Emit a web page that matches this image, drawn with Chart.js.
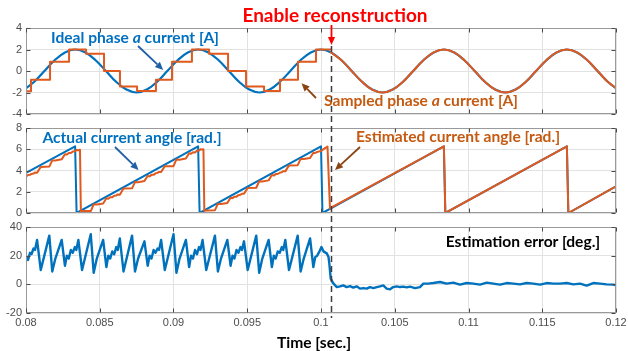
<!DOCTYPE html>
<html>
<head>
<meta charset="utf-8">
<script src="https://cdn.jsdelivr.net/npm/chart.js@4.4.1/dist/chart.umd.min.js"></script>
<style>
  html, body { margin: 0; padding: 0; background: #fff; }
  #wrap { position: relative; width: 628px; height: 351px; overflow: hidden; }
  #wrap canvas { position: absolute; left: 0; }
  .lbl { position: absolute; transform: translate(-50%, -50%); font-family: Lato, "Open Sans", sans-serif;
         font-weight: 700; font-size: 15.6px; white-space: nowrap; line-height: 1; }
</style>
</head>
<body>
<div id="wrap">
  <canvas id="cur" width="670" height="130" style="top:0"></canvas>
  <canvas id="ang" width="670" height="120" style="top:110px"></canvas>
  <canvas id="err" width="670" height="144" style="top:207px"></canvas>
  <canvas id="marks" width="628" height="351" style="top:0"></canvas>
  <div class="lbl" style="left:335px; top:14px; font-size:19px; color:#ff0000">Enable reconstruction</div>
  <div class="lbl" style="left:135px; top:38px; color:#0070c0">Ideal phase <i>a</i> current [A]</div>
  <div class="lbl" style="left:421px; top:101px; color:#c55a11">Sampled phase <i>a</i> current [A]</div>
  <div class="lbl" style="left:132px; top:138px; color:#0070c0">Actual current angle [rad.]</div>
  <div class="lbl" style="left:458px; top:137px; color:#c55a11">Estimated current angle [rad.]</div>
  <div class="lbl" style="left:523px; top:242px; color:#000">Estimation error [deg.]</div>
  <div class="lbl" style="left:314px; top:343px; color:#000">Time [sec.]</div>
</div>
<script>
const BLUE = '#0072bd';
const ORANGE = '#e0591e';

const reconTime = 0.10066;

// time axis
const timeTicks = [0.08, 0.085, 0.09, 0.095, 0.1, 0.105, 0.11, 0.115, 0.12];
const timeTickLabels = ['0.08', '0.085', '0.09', '0.095', '0.1', '0.105', '0.11', '0.115', '0.12'];
const curTicks = [-4, -2, 0, 2, 4];
const angTicks = [0, 2, 4, 6, 8];
const errTicks = [-20, 0, 20, 40];

// ideal phase a current [A]
const idealTime = [0.07986, 0.08056, 0.08125, 0.08194, 0.08264, 0.08333, 0.08403, 0.08472, 0.08542, 0.08611,
  0.08681, 0.0875, 0.08819, 0.08889, 0.08958, 0.09028, 0.09097, 0.09167, 0.09236, 0.09306,
  0.09375, 0.09444, 0.09514, 0.09583, 0.09653, 0.09722, 0.09792, 0.09861, 0.09931, 0.1,
  0.10069, 0.10139, 0.10208, 0.10278, 0.10347, 0.10417, 0.10486, 0.10556, 0.10625, 0.10694,
  0.10764, 0.10833, 0.10903, 0.10972, 0.11042, 0.11111, 0.11181, 0.1125, 0.11319, 0.11389,
  0.11458, 0.11528, 0.11597, 0.11667, 0.11736, 0.11806, 0.11875, 0.11944, 0.12014];
const idealCurrent = [-1.73, -1, 0, 1, 1.73, 2, 1.73, 1, 0, -1,
  -1.73, -2, -1.73, -1, 0, 1, 1.73, 2, 1.73, 1,
  0, -1, -1.73, -2, -1.73, -1, 0, 1, 1.73, 2,
  1.73, 1, 0, -1, -1.73, -2, -1.73, -1, 0, 1,
  1.73, 2, 1.73, 1, 0, -1, -1.73, -2, -1.73, -1,
  0, 1, 1.73, 2, 1.73, 1, 0, -1, -1.73];

// sampled phase a current, held between samples
const sampledTime = [0.08, 0.08034, 0.08163, 0.08292, 0.08407, 0.08529, 0.08637, 0.08753, 0.08881, 0.0899,
  0.09125, 0.09241, 0.0937, 0.09492, 0.09614, 0.09722, 0.09844, 0.09966, 0.10066];
const sampledCurrent = [-1.88, -0.82, 0.85, 2, 1.6, 0, -1.45, -1.85, -0.82, 0.85,
  2, 1.6, 0, -1.45, -1.85, -0.82, 0.85, 2, 2];

// sampled current once reconstruction is on
const reconCurTime = [0.10066, 0.10139, 0.10208, 0.10278, 0.10347, 0.10417, 0.10486, 0.10556, 0.10625, 0.10694,
  0.10764, 0.10833, 0.10903, 0.10972, 0.11042, 0.11111, 0.11181, 0.1125, 0.11319, 0.11389,
  0.11458, 0.11528, 0.11597, 0.11667, 0.11736, 0.11806, 0.11875, 0.11944, 0.12014];
const reconCurrent = [1.75, 1, 0, -1, -1.73, -2, -1.73, -1, 0, 1,
  1.73, 2, 1.73, 1, 0, -1, -1.73, -2, -1.73, -1,
  0, 1, 1.73, 2, 1.73, 1, 0, -1, -1.73];

// actual current angle [rad.]
const actualAngleTime = [0.08, 0.08333, 0.08343, 0.09167, 0.09177, 0.1, 0.1001, 0.10833, 0.10843, 0.11667, 0.11677, 0.12];
const actualAngle = [3.77, 6.28, 0, 6.28, 0, 6.28, 0, 6.28, 0, 6.28, 0, 2.51];

// estimated current angle [rad.]
const estAngleTime = [0.08, 0.08014, 0.08027, 0.08037, 0.08051, 0.08061, 0.08075, 0.081,
  0.08158, 0.08178, 0.08199, 0.08242, 0.08264, 0.08277, 0.0829, 0.08304, 0.08317, 0.08331, 0.08341, 0.08355,
  0.08366, 0.08372, 0.0838,
  0.08439, 0.08459, 0.0848, 0.08523, 0.08545, 0.08558, 0.08571, 0.08585, 0.08598, 0.08612, 0.08622, 0.08636, 0.08661,
  0.08719, 0.08739, 0.0876, 0.08803, 0.08825, 0.08838, 0.08851, 0.08865, 0.08878, 0.08892, 0.08902, 0.08916, 0.08941,
  0.09, 0.0902, 0.09041, 0.09084, 0.09106, 0.09119, 0.09132, 0.09146, 0.09159, 0.09173, 0.09183, 0.09197,
  0.09203, 0.09209, 0.09222,
  0.09281, 0.09301, 0.09322, 0.09365, 0.09387, 0.094, 0.09413, 0.09427, 0.0944, 0.09454, 0.09464, 0.09478, 0.09503,
  0.09561, 0.09581, 0.09602, 0.09645, 0.09667, 0.0968, 0.09693, 0.09707, 0.0972, 0.09734, 0.09744, 0.09758, 0.09783,
  0.09842, 0.09862, 0.09883, 0.09926, 0.09948, 0.09961, 0.09974, 0.09988, 0.10003, 0.10017, 0.10039, 0.10044,
  0.10061, 0.10081, 0.10833, 0.10843, 0.11667, 0.11677, 0.12];
const estAngle = [3.42, 3.57, 3.59, 3.68, 3.71, 3.81, 3.79, 4.34,
  4.37, 4.95, 4.95, 5.05, 5.53, 5.5, 5.64, 5.64, 5.78, 5.81, 5.92, 5.91,
  5.95, 0.15, 0.18,
  0.18, 0.81, 0.79, 0.89, 1.39, 1.34, 1.48, 1.49, 1.63, 1.64, 1.75, 1.72, 2.31,
  2.32, 2.91, 2.9, 3.02, 3.48, 3.45, 3.59, 3.59, 3.73, 3.78, 3.87, 3.86, 4.41,
  4.41, 5.04, 5.02, 5.12, 5.62, 5.57, 5.71, 5.7, 5.86, 5.88, 5.99, 5.97,
  6.0, 0.2, 0.24,
  0.27, 0.86, 0.85, 0.95, 1.43, 1.4, 1.54, 1.54, 1.68, 1.71, 1.82, 1.82, 2.36,
  2.38, 2.99, 2.97, 3.07, 3.57, 3.52, 3.66, 3.67, 3.79, 3.83, 3.94, 3.92, 4.48,
  4.5, 5.09, 5.08, 5.17, 5.68, 5.65, 5.74, 5.8, 5.86, 6.01, 6.2, 6.25,
  0.4, 0.6, 6.28, 0, 6.28, 0, 2.51];

// estimation error [deg.]
const errTime = [0.08, 0.08014, 0.08027, 0.08037, 0.08051, 0.08061, 0.08075, 0.081,
  0.08158, 0.08178, 0.08199, 0.08242, 0.08264, 0.08277, 0.0829, 0.08304, 0.08317, 0.08331, 0.08341, 0.08355, 0.0838,
  0.08439, 0.08459, 0.0848, 0.08523, 0.08545, 0.08558, 0.08571, 0.08585, 0.08598, 0.08612, 0.08622, 0.08636, 0.08661,
  0.08719, 0.08739, 0.0876, 0.08803, 0.08825, 0.08838, 0.08851, 0.08865, 0.08878, 0.08892, 0.08902, 0.08916, 0.08941,
  0.09, 0.0902, 0.09041, 0.09084, 0.09106, 0.09119, 0.09132, 0.09146, 0.09159, 0.09173, 0.09183, 0.09197, 0.09222,
  0.09281, 0.09301, 0.09322, 0.09365, 0.09387, 0.094, 0.09413, 0.09427, 0.0944, 0.09454, 0.09464, 0.09478, 0.09503,
  0.09561, 0.09581, 0.09602, 0.09645, 0.09667, 0.0968, 0.09693, 0.09707, 0.0972, 0.09734, 0.09744, 0.09758, 0.09783,
  0.09842, 0.09862, 0.09883, 0.09926, 0.09948, 0.09961, 0.09974, 0.09988, 0.10003, 0.10017, 0.10039, 0.10051,
  0.10056, 0.10066, 0.10081, 0.10106,
  0.10129, 0.10151, 0.10174, 0.10197, 0.10219, 0.10242, 0.10264, 0.10287, 0.1031, 0.10332, 0.10355, 0.10378,
  0.104, 0.10422, 0.10445, 0.10468, 0.1049, 0.10513, 0.10536, 0.10558, 0.10581, 0.10603, 0.10637, 0.10671,
  0.10694, 0.10727, 0.10761, 0.10807, 0.10852, 0.10897, 0.10942, 0.10988, 0.11033, 0.11078, 0.11124, 0.11168,
  0.11214, 0.11259, 0.11304, 0.11349, 0.11395, 0.11439, 0.11485, 0.1153, 0.11575, 0.1162, 0.11666, 0.11711,
  0.11756, 0.11801, 0.11846, 0.11892, 0.11937, 0.11982, 0.12];
const errDeg = [20, 17, 22, 21, 25, 24, 31, 10,
  34, 9, 18, 31, 13, 20, 18, 24, 22, 26, 24, 31, 10,
  35, 8, 18, 31, 12, 20, 18, 23, 21, 26, 24, 32, 9,
  34, 9, 18, 30, 13, 20, 18, 24, 22, 25, 24, 31, 10,
  35, 8, 18, 31, 12, 20, 18, 24, 21, 26, 24, 31, 10,
  34, 9, 18, 31, 13, 20, 18, 24, 22, 26, 24, 30, 10,
  34, 8, 18, 31, 12, 20, 18, 23, 22, 26, 24, 31, 10,
  34, 9, 18, 32, 12, 19, 20, 22.6, 26, 23, 21.6, 19,
  15, 4, 1, -1.9,
  -1.4, -0.7, -1.9, -1.2, -2.3, -1.4, -3, -2.6, -3, -1.9, -2.6, -1.9,
  -1.4, -0.7, -3, -3.5, -1.9, -1.4, -1.9, -1.6, -2.1, -1.6, -2.6, -1.9,
  0.5, 0.5, 0.9, 1.6, 0.5, 1.2, -0.2, 0.9, 0.5, -0.2, 1.2, 0.5,
  -0.2, 0.9, 0.5, 0, 0.9, 0.5, -0.2, 0.9, 0.5, 0.5, 0.9, 0,
  0.5, -0.9, 0.9, 0.5, 0, -0.2, -0.7];

const zip = (xs, ys) => xs.map((x, i) => ({ x: x, y: ys[i] }));

// MATLAB-style box with inward ticks on all four sides
const boxPlugin = {
  id: 'box',
  afterDraw(chart) {
    const { ctx, chartArea: a, scales } = chart;
    const L = Math.round(a.left) + 0.5, R = Math.round(a.right) - 0.5;
    const T = Math.round(a.top) + 0.5, B = Math.round(a.bottom) - 0.5;
    ctx.save();
    ctx.strokeStyle = '#9a9a9a';
    ctx.lineWidth = 1;
    ctx.strokeRect(L, T, R - L, B - T);
    ctx.strokeStyle = '#4a4a4a';
    ctx.beginPath();
    scales.x.ticks.forEach(t => {
      const px = Math.round(scales.x.getPixelForValue(t.value)) + 0.5;
      ctx.moveTo(px, T); ctx.lineTo(px, T + 4);
      ctx.moveTo(px, B); ctx.lineTo(px, B - 4);
    });
    scales.y.ticks.forEach(t => {
      const py = Math.round(scales.y.getPixelForValue(t.value)) + 0.5;
      ctx.moveTo(L, py); ctx.lineTo(L + 4, py);
      ctx.moveTo(R, py); ctx.lineTo(R - 4, py);
    });
    ctx.stroke();
    ctx.restore();
  }
};

// each panel canvas is 670 wide so the plot ends at x = 616 inside the 628 page
function panelOptions(padTop, padBottom, yMin, yMax, yTicks, withTimeLabels) {
  return {
    responsive: false,
    animation: false,
    devicePixelRatio: 1,
    layout: { padding: { top: padTop, bottom: padBottom, left: 0, right: 54 } },
    plugins: { legend: { display: false }, tooltip: { enabled: false } },
    elements: { point: { radius: 0 }, line: { borderJoinStyle: 'round', borderCapStyle: 'round' } },
    scales: {
      x: {
        type: 'linear', min: 0.08, max: 0.12,
        afterBuildTicks: s => { s.ticks = timeTicks.map(v => ({ value: v })); },
        afterFit: s => { s.height = withTimeLabels ? 38 : 0; },
        ticks: {
          display: withTimeLabels, autoSkip: false, maxRotation: 0, padding: 3,
          color: '#4d4d4d', font: { family: 'Liberation Sans', size: 11 },
          callback: (v, i) => timeTickLabels[i]
        },
        grid: { color: '#e2e2e2', drawTicks: false },
        border: { display: false }
      },
      y: {
        min: yMin, max: yMax,
        afterBuildTicks: s => { s.ticks = yTicks.map(v => ({ value: v })); },
        afterFit: s => { s.width = 26; },
        ticks: {
          autoSkip: false, padding: 4,
          color: '#4d4d4d', font: { family: 'Liberation Sans', size: 11 }
        },
        grid: { color: '#e2e2e2', drawTicks: false },
        border: { display: false }
      }
    }
  };
}

// canvas tops: 0, 110, 207 -> plot areas 28-114, 128-213, 227-313
const curChart = new Chart(document.getElementById('cur'), {
  type: 'line',
  data: {
    datasets: [
      { data: zip(sampledTime, sampledCurrent), borderColor: ORANGE, borderWidth: 2, stepped: true, order: 1 },
      { data: zip(reconCurTime, reconCurrent), borderColor: ORANGE, borderWidth: 2, tension: 0.4, order: 1 },
      { data: zip(idealTime, idealCurrent), borderColor: BLUE, borderWidth: 2.2, tension: 0.4, order: 2 }
    ]
  },
  options: panelOptions(28, 16, -4, 4, curTicks, false),
  plugins: [boxPlugin]
});

const angChart = new Chart(document.getElementById('ang'), {
  type: 'line',
  data: {
    datasets: [
      { data: zip(estAngleTime, estAngle), borderColor: ORANGE, borderWidth: 2, order: 1 },
      { data: zip(actualAngleTime, actualAngle), borderColor: BLUE, borderWidth: 2, order: 2 }
    ]
  },
  options: panelOptions(18, 17, 0, 8, angTicks, false),
  plugins: [boxPlugin]
});

const errChart = new Chart(document.getElementById('err'), {
  type: 'line',
  data: {
    datasets: [
      { data: zip(errTime, errDeg), borderColor: BLUE, borderWidth: 2.4 }
    ]
  },
  options: panelOptions(20, 0, -20, 40, errTicks, true),
  plugins: [boxPlugin]
});

// annotation layer: arrows and the reconstruction marker
const mk = document.getElementById('marks').getContext('2d');

function arrow(x0, y0, x1, y1, color) {
  const a = Math.atan2(y1 - y0, x1 - x0);
  const head = 8, half = 3.6;
  const bx = x1 - head * Math.cos(a), by = y1 - head * Math.sin(a);
  mk.save();
  mk.strokeStyle = color; mk.fillStyle = color; mk.lineWidth = 1.8;
  mk.beginPath(); mk.moveTo(x0, y0); mk.lineTo(bx, by); mk.stroke();
  mk.beginPath();
  mk.moveTo(x1, y1);
  mk.lineTo(bx + half * Math.sin(a), by - half * Math.cos(a));
  mk.lineTo(bx - half * Math.sin(a), by + half * Math.cos(a));
  mk.closePath(); mk.fill();
  mk.restore();
}

function at(chart, offsetY, t, v) {
  return [chart.scales.x.getPixelForValue(t), chart.scales.y.getPixelForValue(v) + offsetY];
}

const reconX = Math.round(errChart.scales.x.getPixelForValue(reconTime)) + 0.5;
mk.save();
mk.strokeStyle = '#3c3c3c';
mk.lineWidth = 1.5;
mk.setLineDash([6, 4]);
mk.beginPath(); mk.moveTo(reconX, 46); mk.lineTo(reconX, 318); mk.stroke();
mk.restore();

arrow(reconX, 25, reconX, 45, '#ff0000');

let p = at(curChart, 0, 0.0893, 0.1);
arrow(138, 46, p[0], p[1], '#1f5fa6');
p = at(curChart, 0, 0.09868, -1.14);
arrow(316, 98, p[0], p[1], '#8a4414');
p = at(angChart, 110, 0.08763, 4.05);
arrow(115, 147, p[0], p[1], '#1f5fa6');
p = at(angChart, 110, 0.10095, 4.05);
arrow(360, 147, p[0], p[1], '#8a4414');
</script>
</body>
</html>
